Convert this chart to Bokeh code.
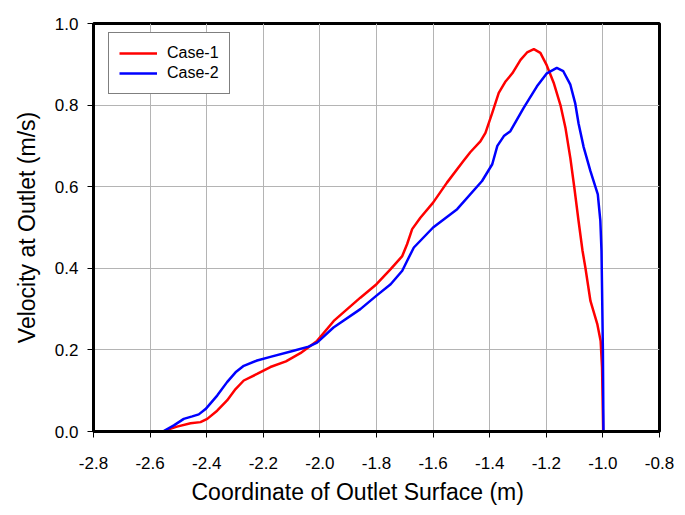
from bokeh.plotting import figure
from bokeh.models import Legend, LegendItem, FixedTicker, Range1d, Title
from bokeh.embed import file_html
from bokeh.resources import INLINE

case1_x = [-2.55, -2.54, -2.505, -2.457, -2.422, -2.398, -2.363, -2.328, -2.298, -2.269, -2.222,
           -2.175, -2.12, -2.069, -2.01, -1.951, -1.857, -1.80, -1.75, -1.709, -1.692, -1.674,
           -1.645, -1.60, -1.551, -1.493, -1.468, -1.433, -1.415, -1.391, -1.368, -1.344, -1.32,
           -1.291, -1.268, -1.244, -1.221, -1.20, -1.174, -1.15, -1.132, -1.115, -1.101, -1.086,
           -1.072, -1.062, -1.044, -1.02, -1.008, -1.003, -0.999]
case1_y = [0.0, 0.004, 0.012, 0.02, 0.023, 0.031, 0.051, 0.076, 0.104, 0.125, 0.141,
           0.158, 0.172, 0.192, 0.222, 0.271, 0.328, 0.361, 0.398, 0.43, 0.459, 0.496,
           0.524, 0.561, 0.61, 0.663, 0.685, 0.711, 0.732, 0.781, 0.83, 0.858, 0.878,
           0.911, 0.929, 0.937, 0.928, 0.90, 0.855, 0.80, 0.743, 0.67, 0.598, 0.516,
           0.443, 0.402, 0.32, 0.264, 0.222, 0.157, 0.0]

case2_x = [-2.555, -2.516, -2.481, -2.451, -2.428, -2.404, -2.363, -2.328, -2.298, -2.269,
           -2.222, -2.175, -2.093, -2.04, -2.01, -1.952, -1.857, -1.80, -1.75, -1.709, -1.692,
           -1.668, -1.60, -1.515, -1.427, -1.391, -1.373, -1.35, -1.327, -1.28, -1.233, -1.198,
           -1.163, -1.14, -1.115, -1.098, -1.086, -1.068, -1.044, -1.018, -1.009, -1.005,
           -1.003, -1.0, -0.998]
case2_y = [0.0, 0.015, 0.031, 0.037, 0.042, 0.055, 0.088, 0.121, 0.145, 0.161,
           0.174, 0.183, 0.198, 0.208, 0.218, 0.255, 0.30, 0.333, 0.361, 0.394, 0.418,
           0.451, 0.50, 0.545, 0.614, 0.655, 0.70, 0.724, 0.736, 0.793, 0.846, 0.878,
           0.891, 0.883, 0.85, 0.805, 0.755, 0.697, 0.638, 0.581, 0.516, 0.443,
           0.35, 0.198, 0.0]

x_ticks = [-2.8, -2.6, -2.4, -2.2, -2.0, -1.8, -1.6, -1.4, -1.2, -1.0, -0.8]
y_ticks = [0.0, 0.2, 0.4, 0.6, 0.8, 1.0]

FONT = "Liberation Sans"

p = figure(width=685, height=515, output_backend="svg", toolbar_location=None,
           x_range=Range1d(-2.8, -0.8), y_range=Range1d(0.0, 1.0),
           min_border_left=93, min_border_right=26, min_border_top=23, min_border_bottom=84)
p.background_fill_color = "white"
p.border_fill_color = "white"
p.outline_line_color = "black"
p.outline_line_width = 3

r1 = p.line(case1_x, case1_y, line_color="#ff0000", line_width=2.5, line_join="round")
r2 = p.line(case2_x, case2_y, line_color="#0000ff", line_width=2.5, line_join="round")

p.xaxis.ticker = FixedTicker(ticks=x_ticks)
p.yaxis.ticker = FixedTicker(ticks=y_ticks)
p.xaxis.major_label_overrides = {t: f"{t:.1f}" for t in x_ticks}
p.yaxis.major_label_overrides = {t: f"{t:.1f}" for t in y_ticks}

for ax in (p.xaxis, p.yaxis):
    ax.axis_line_color = "black"
    ax.axis_line_width = 3
    ax.major_tick_line_color = "black"
    ax.major_tick_line_width = 1
    ax.major_tick_out = 6
    ax.major_tick_in = 0
    ax.minor_tick_line_color = None
    ax.major_label_text_font = FONT
    ax.major_label_text_font_size = "17px"
    ax.major_label_text_color = "black"
    ax.axis_label_text_font = FONT
    ax.axis_label_text_font_size = "23px"
    ax.axis_label_text_font_style = "normal"
    ax.axis_label_text_color = "black"

p.yaxis.axis_label = "Velocity at Outlet (m/s)"
p.xaxis.major_label_standoff = 19
p.yaxis.major_label_standoff = 9
p.yaxis.axis_label_standoff = 12

xtitle = Title(text="Coordinate of Outlet Surface (m)", align="left", offset=98,
               text_font=FONT, text_font_size="23px", text_font_style="normal",
               text_color="black", standoff=14, vertical_align="top")
p.add_layout(xtitle, "below")

p.xgrid.ticker = FixedTicker(ticks=x_ticks)
p.ygrid.ticker = FixedTicker(ticks=y_ticks)
p.grid.grid_line_color = "#b4b4b4"
p.grid.grid_line_width = 1

legend = Legend(items=[LegendItem(label="Case-1", renderers=[r1]),
                       LegendItem(label="Case-2", renderers=[r2])],
                location=(15, 337))
legend.border_line_color = "black"
legend.border_line_width = 1
legend.background_fill_color = "white"
legend.background_fill_alpha = 1
legend.label_text_font = FONT
legend.label_text_font_size = "16px"
legend.label_text_color = "black"
legend.glyph_width = 38
legend.glyph_height = 20
legend.label_height = 20
legend.spacing = 0
legend.padding = 10
legend.margin = 0
legend.label_standoff = 10
p.add_layout(legend)

open("out.html", "w").write(file_html(p, INLINE))
